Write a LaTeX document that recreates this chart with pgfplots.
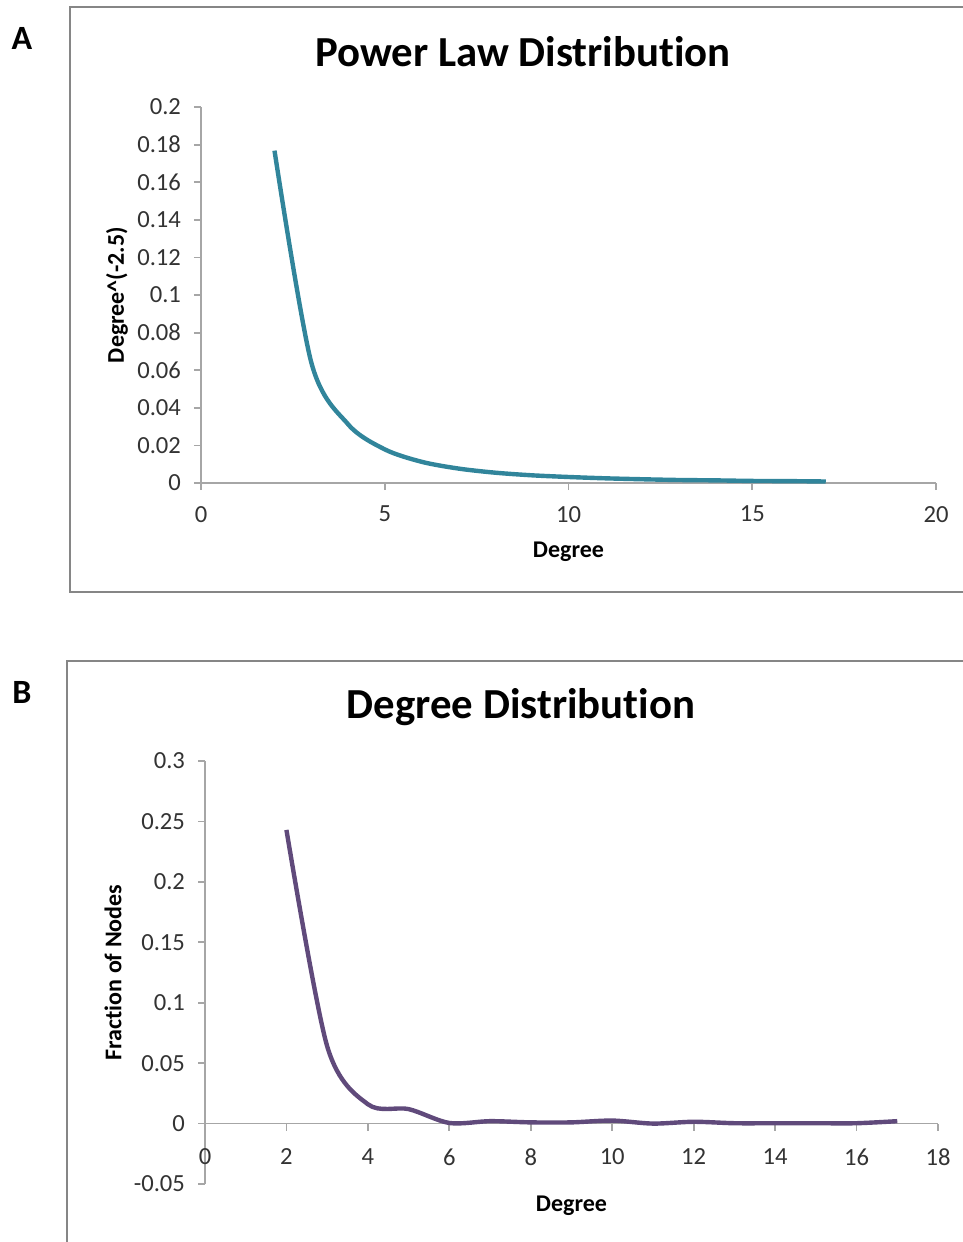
\documentclass[border=0pt]{standalone}
\usepackage{pgfplots}
\pgfplotsset{compat=1.18}
\usepackage{fontspec}
\setmainfont{Carlito}[Ligatures=NoCommon]
\definecolor{teal}{RGB}{49,133,155}
\definecolor{plum}{RGB}{96,74,123}
\definecolor{axgray}{RGB}{166,166,166}
\definecolor{boxgray}{RGB}{134,134,134}

\pgfplotsset{
  excel/.style={
    scale only axis,
    anchor=south west,
    axis y line*=left,
    axis line style={axgray, line width=0.9pt},
    tick style={axgray, line width=0.9pt},
    major tick length=3.5pt,
    tick align=outside,
    tick label style={font=\fontsize{12.3}{14}\selectfont, text=black!80},
    yticklabel style={xshift=-3pt},
    label style={font=\bfseries\fontsize{12}{14}\selectfont},
    scaled ticks=false,
    /pgf/number format/assume math mode=true,
    /pgf/number format/fixed,
    /pgf/number format/precision=2,
    clip=false,
  }
}

\begin{document}
\begin{tikzpicture}
\begin{scope}[x=0.5pt, y=-0.5pt]
  \draw[boxgray, line width=1pt] (1000,7) -- (70,7) -- (70,592) -- (1000,592);
  \draw[boxgray, line width=1pt] (1000,661) -- (67,661) -- (67,1300);
  \node[font=\bfseries\fontsize{17}{20}\selectfont] at (22,38) {A};
  \node[font=\bfseries\fontsize{17}{20}\selectfont] at (22,692) {B};
  \node[font=\bfseries\fontsize{21.4}{25}\selectfont] at (523,52) {Power Law Distribu\kern0pt tion};
  \node[font=\bfseries\fontsize{21.4}{25}\selectfont] at (521,707) {Degree Distribu\kern0pt tion};
\end{scope}

% Panel A
\begin{axis}[excel,
  at={(100.5pt,-241.5pt)},
  width=367.5pt, height=188pt,
  axis x line*=bottom,
  xticklabel style={yshift=-4.5pt},
  xmin=0, xmax=20, ymin=0, ymax=0.2,
  xtick={0,5,10,15,20},
  ytick={0,0.02,...,0.2},
  xlabel={Degree},
  ylabel={Degree\textasciicircum(-2.5)},
  xlabel style={at={(axis description cs:0.5,-0.1835)}, anchor=center},
  ylabel style={at={(axis description cs:-0.1143,0.5)}, anchor=center, rotate=0},
]
\addplot[teal, line width=2.2pt, smooth] coordinates {
  (2,0.1768) (3,0.0642) (4,0.0313) (5,0.0179) (6,0.0113) (7,0.0077)
  (8,0.0055) (9,0.0041) (10,0.0032) (11,0.0025) (12,0.0020) (13,0.0016)
  (14,0.0014) (15,0.0011) (16,0.0010) (17,0.0008)
};
\end{axis}

% Panel B
\begin{axis}[excel,
  at={(102.5pt,-592pt)},
  width=366.5pt, height=211.5pt,
  axis x line*=middle,
  hide obscured x ticks=false,
  xticklabel style={yshift=-5.5pt},
  xmin=0, xmax=18, ymin=-0.05, ymax=0.3,
  xtick={0,2,...,18},
  ytick={-0.05,0,0.05,0.1,0.15,0.2,0.25,0.3},
  yticklabels={-0.05,0,0.05,0.1,0.15,0.2,0.25,0.3},
  xlabel={Degree},
  ylabel={Fraction of Nodes},
  xlabel style={at={(axis description cs:0.5,-0.052)}, anchor=center},
  ylabel style={at={(axis description cs:-0.1255,0.5)}, anchor=center, rotate=0},
]
\addplot[plum, line width=2.2pt, smooth] coordinates {
  (2,0.243) (3,0.064) (4,0.016) (5,0.012) (6,0.0005) (7,0.002)
  (8,0.001) (9,0.001) (10,0.0025) (11,0.0) (12,0.0015) (13,0.0003)
  (14,0.0003) (15,0.0003) (16,0.0003) (17,0.002)
};
\end{axis}

\pgfresetboundingbox
\path[use as bounding box] (0,0) rectangle (481.5pt,-621pt);
\end{tikzpicture}
\end{document}
